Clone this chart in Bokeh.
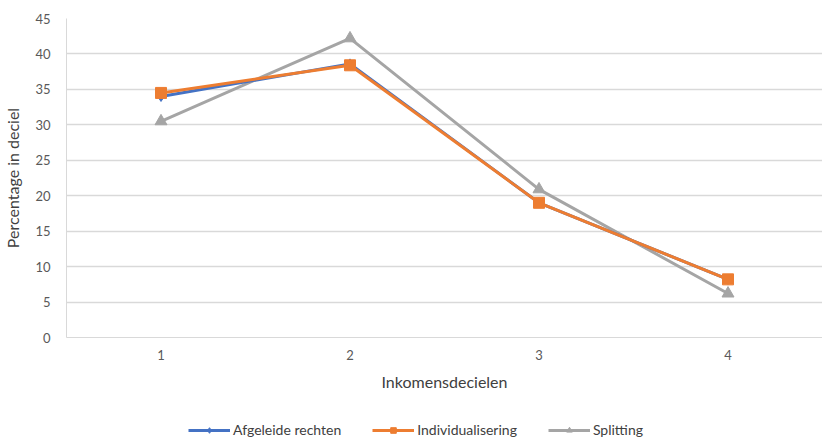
from bokeh.plotting import figure
from bokeh.layouts import column
from bokeh.models import Legend, LegendItem, FixedTicker, Range1d
from bokeh.embed import file_html
from bokeh.resources import INLINE

deciles = [1, 2, 3, 4]
afgeleide = [34.0, 38.6, 19.0, 8.2]
individualisering = [34.5, 38.4, 19.0, 8.2]
splitting = [30.5, 42.2, 20.9, 6.2]
y_ticks = [0, 5, 10, 15, 20, 25, 30, 35, 40, 45]

FONT = "Lato"
BLUE, ORANGE, GREY = "#4472C4", "#ED7D31", "#A5A5A5"


def draw_series(fig):
    lg = fig.line(deciles, splitting, line_color=GREY, line_width=3)
    lb = fig.line(deciles, afgeleide, line_color=BLUE, line_width=3)
    lo = fig.line(deciles, individualisering, line_color=ORANGE, line_width=3)
    sb = fig.scatter(deciles, afgeleide, marker="diamond", size=10, color=BLUE)
    so = fig.scatter(deciles, individualisering, marker="square", size=11, color=ORANGE)
    sg = fig.scatter(deciles, splitting, marker="triangle", size=12, color=GREY)
    return (lb, sb), (lo, so), (lg, sg)


p = figure(width=822, height=408, output_backend="svg", toolbar_location=None,
           x_range=Range1d(0.5, 4.5), y_range=Range1d(0, 45),
           min_border_top=18, min_border_right=0, min_border_left=0,
           min_border_bottom=71)
p.outline_line_color = None
draw_series(p)

p.xaxis.ticker = FixedTicker(ticks=deciles)
p.yaxis.ticker = FixedTicker(ticks=y_ticks)
p.xaxis.axis_label = "Inkomensdecielen"
p.yaxis.axis_label = "Percentage in deciel"
for ax in (p.xaxis, p.yaxis):
    ax.major_tick_line_color = None
    ax.minor_tick_line_color = None
    ax.major_label_text_font = FONT
    ax.major_label_text_font_size = "13px"
    ax.major_label_text_color = "#595959"
    ax.axis_label_text_font = FONT
    ax.axis_label_text_font_size = "16px"
    ax.axis_label_text_font_style = "normal"
    ax.axis_label_text_color = "#404040"
p.xaxis.axis_line_color = "#D9D9D9"
p.yaxis.axis_line_color = "#D9D9D9"
p.yaxis.axis_label_standoff = 10
p.xaxis.axis_label_standoff = 9
p.xaxis.major_label_standoff = 6
p.yaxis.major_label_standoff = 10
p.xgrid.grid_line_color = None
p.ygrid.grid_line_color = "#D9D9D9"
p.ygrid.grid_line_width = 1.5

# legend strip below the chart
q = figure(width=822, height=30, output_backend="svg", toolbar_location=None,
           x_range=Range1d(100, 101), y_range=Range1d(100, 101),
           x_axis_location=None, y_axis_location=None,
           min_border_top=0, min_border_right=0, min_border_left=0,
           min_border_bottom=0)
q.outline_line_color = None
q.xgrid.grid_line_color = None
q.ygrid.grid_line_color = None
a, i, s = draw_series(q)
legend = Legend(items=[
    LegendItem(label="Afgeleide rechten", renderers=list(a)),
    LegendItem(label="Individualisering", renderers=list(i)),
    LegendItem(label="Splitting", renderers=list(s)),
], orientation="horizontal", location=(122, 0), border_line_color=None,
   background_fill_alpha=0, label_text_font=FONT, label_text_font_size="14px",
   label_text_color="#404040", glyph_width=42, glyph_height=14, label_height=14,
   spacing=31, margin=0, padding=2, label_standoff=3)
q.add_layout(legend, "center")

open("out.html", "w").write(file_html(column(p, q, spacing=0), INLINE))
